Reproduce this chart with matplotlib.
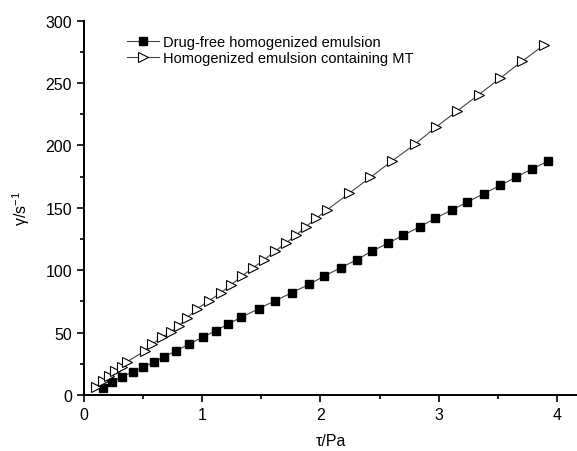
import matplotlib.pyplot as plt
from matplotlib.ticker import MultipleLocator

plt.rcParams['font.family'] = ['Liberation Sans', 'DejaVu Sans']
plt.rcParams['mathtext.default'] = 'regular'

# drug-free homogenized emulsion (filled squares)
tau_free = [0.158, 0.234, 0.319, 0.417, 0.501, 0.589, 0.676, 0.778, 0.890, 1.008,
            1.113, 1.220, 1.330, 1.479, 1.617, 1.758, 1.902, 2.033, 2.172, 2.308,
            2.432, 2.572, 2.702, 2.843, 2.970, 3.111, 3.243, 3.381, 3.522, 3.652,
            3.787, 3.928]
gamma_free = [5.4, 10.7, 14.4, 18.7, 22.4, 26.2, 30.5, 35.3, 40.9, 46.5,
              51.5, 56.9, 62.3, 69.2, 75.6, 82.0, 88.6, 95.4, 102.0, 108.4,
              115.2, 121.6, 128.2, 134.9, 141.6, 148.3, 154.7, 161.3, 168.1, 174.5,
              181.1, 187.5]

# homogenized emulsion containing MT (open triangles)
tau_mt = [0.104, 0.163, 0.214, 0.266, 0.319, 0.361, 0.516, 0.579, 0.657, 0.735,
          0.803, 0.871, 0.953, 1.059, 1.156, 1.243, 1.333, 1.431, 1.522, 1.615,
          1.705, 1.795, 1.877, 1.964, 2.052, 2.243, 2.423, 2.609, 2.798, 2.975,
          3.156, 3.339, 3.522, 3.708, 3.891]
gamma_mt = [6.8, 11.5, 15.2, 19.1, 22.8, 26.4, 35.5, 40.9, 46.2, 50.7,
            55.5, 61.7, 68.9, 75.6, 81.8, 88.2, 95.1, 102.0, 108.2, 115.2,
            121.6, 128.2, 134.9, 141.5, 148.1, 161.7, 174.5, 187.8, 200.9, 214.6,
            227.6, 240.7, 254.1, 267.7, 280.5]

fig = plt.figure(figsize=(5.77, 4.52), dpi=100)
ax = fig.add_axes([84 / 577, 56 / 452, 493 / 577, 374.3 / 452])

ax.plot(tau_free, gamma_free, color='#444444', lw=0.8, marker='s', ms=6.3,
        mfc='black', mec='black', label='Drug-free homogenized emulsion')
ax.plot(tau_mt, gamma_mt, color='#444444', lw=0.8, marker='>', ms=7.5,
        mfc='white', mec='black', mew=0.8, label='Homogenized emulsion containing MT')

ax.set_xlim(0, 4.17)
ax.set_ylim(0, 300)
ax.xaxis.set_major_locator(MultipleLocator(1))
ax.xaxis.set_minor_locator(MultipleLocator(0.5))
ax.yaxis.set_major_locator(MultipleLocator(50))
ax.yaxis.set_minor_locator(MultipleLocator(25))

for s in ['top', 'right']:
    ax.spines[s].set_visible(False)
for s in ['left', 'bottom']:
    ax.spines[s].set_linewidth(1.4)

ax.tick_params(which='major', direction='out', length=5, width=1.2, labelsize=11.5)
ax.tick_params(which='minor', direction='out', length=3, width=1.2)

ax.set_xlabel('τ/Pa', fontsize=11.5, labelpad=8)
ax.set_ylabel('γ/s$^{-1}$', fontsize=11.5, labelpad=10)

ax.legend(loc='upper left', bbox_to_anchor=(0.075, 0.978), frameon=False,
          fontsize=10.5, handlelength=2.2, handletextpad=0.3, labelspacing=0.15,
          borderaxespad=0)

fig.savefig('out.png', dpi=100)
